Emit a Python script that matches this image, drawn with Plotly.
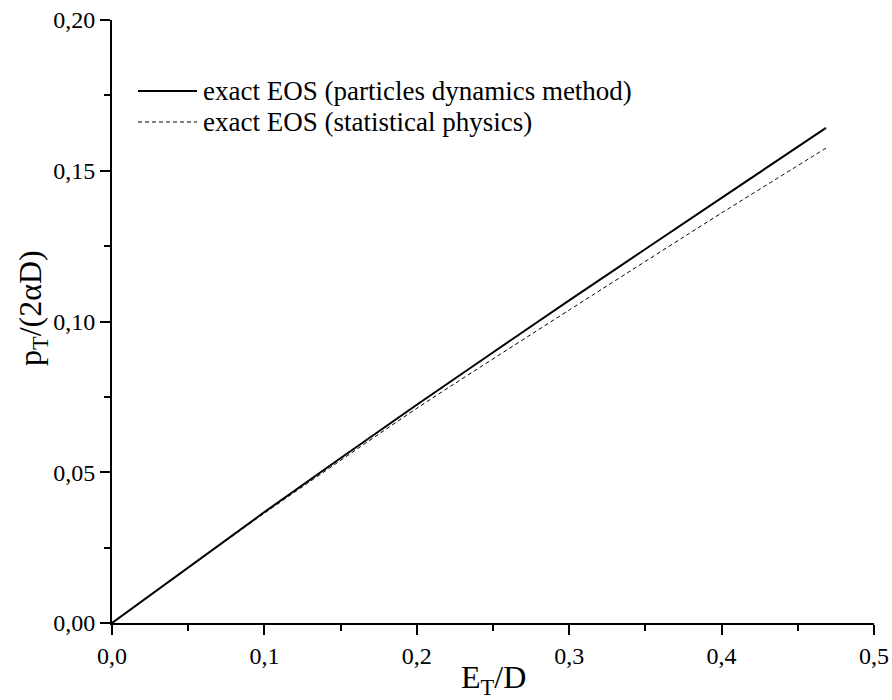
import plotly.graph_objects as go

# Data
x_vals = [0.0, 0.1, 0.2, 0.3, 0.4, 0.4685]
y_dynamics = [0.0, 0.0368, 0.0724, 0.1070, 0.1410, 0.1642]
y_statistical = [0.0, 0.0364, 0.0712, 0.1038, 0.1360, 0.1575]

series_names = ["exact EOS (particles dynamics method)", "exact EOS (statistical physics)"]

x_ticks = [0.0, 0.1, 0.2, 0.3, 0.4, 0.5]
x_ticktext = ["0,0", "0,1", "0,2", "0,3", "0,4", "0,5"]
y_ticks = [0.0, 0.05, 0.10, 0.15, 0.20]
y_ticktext = ["0,00", "0,05", "0,10", "0,15", "0,20"]

FONT = "Liberation Serif"
DASH = "4px,3px"

fig = go.Figure()
fig.add_trace(go.Scatter(x=x_vals, y=y_dynamics, mode="lines", name=series_names[0],
                         line=dict(color="black", width=2, shape="spline", smoothing=0.6), showlegend=False))
fig.add_trace(go.Scatter(x=x_vals, y=y_statistical, mode="lines", name=series_names[1],
                         line=dict(color="black", width=1, dash=DASH, shape="spline", smoothing=0.6),
                         showlegend=False))

W, H = 892, 700
L, R, T, B = 112, 18, 20, 77
pw, ph = W - L - R, H - T - B

def px_x(p):
    return (p - L) / pw

def px_y(p):
    return 1 - (p - T) / ph

# manual legend
legend_rows = [(91, dict(color="black", width=2)), (122, dict(color="black", width=1, dash=DASH))]
for (yy, ln), name in zip(legend_rows, series_names):
    fig.add_shape(type="line", xref="paper", yref="paper",
                  x0=px_x(138), x1=px_x(197), y0=px_y(yy), y1=px_y(yy), line=ln)
    fig.add_annotation(xref="paper", yref="paper", x=px_x(201), y=px_y(yy),
                       xanchor="left", yanchor="middle", text=name, showarrow=False,
                       font=dict(family=FONT, size=27, color="black"))

# axis titles
fig.add_annotation(xref="paper", yref="paper", x=px_x(493), y=px_y(679),
                   xanchor="center", yanchor="middle", text="E<sub>T</sub>/D", showarrow=False,
                   font=dict(family=FONT, size=32, color="black"))
fig.add_annotation(xref="paper", yref="paper", x=px_x(32), y=px_y(308),
                   xanchor="center", yanchor="middle", text="p<sub>T</sub>/(2αD)", showarrow=False,
                   textangle=-90, font=dict(family=FONT, size=32, color="black"))

axis_common = dict(showgrid=False, zeroline=False, showline=True, linecolor="black", linewidth=2,
                   ticks="outside", ticklen=10, tickwidth=2, tickcolor="black",
                   tickfont=dict(family=FONT, size=24, color="black"))

fig.update_xaxes(range=[0, 0.5], tickvals=x_ticks, ticktext=x_ticktext,
                 minor=dict(ticks="outside", ticklen=6, tickwidth=2, tickcolor="black", dtick=0.05, showgrid=False),
                 **axis_common)
fig.update_yaxes(range=[0, 0.2], tickvals=y_ticks, ticktext=y_ticktext,
                 minor=dict(ticks="outside", ticklen=6, tickwidth=2, tickcolor="black", dtick=0.025, showgrid=False),
                 **axis_common)

fig.update_layout(width=W, height=H, margin=dict(l=L, r=R, t=T, b=B, pad=0, autoexpand=False),
                  plot_bgcolor="white", paper_bgcolor="white", showlegend=False,
                  font=dict(family=FONT, color="black"))

fig.write_html("out.html", config={"displayModeBar": False},
               post_script="document.body.style.margin='0';document.body.style.overflow='hidden';")
